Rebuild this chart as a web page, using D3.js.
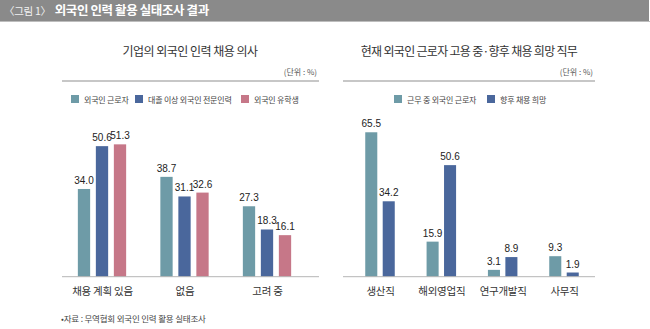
<!DOCTYPE html>
<html><head><meta charset="utf-8">
<script src="https://cdn.jsdelivr.net/npm/d3@7"></script>
<style>
body{margin:0;background:#fff;}
svg{display:block;}
.kr{font-family:"Noto Sans CJK KR","Noto Sans",sans-serif;}
.num{font-family:"Liberation Sans",Arial,sans-serif;}
</style></head>
<body>
<svg id="c" width="650" height="329"></svg>
<script>
const headerPrefix = "〈그림 1〉";
const headerTitle = "외국인 인력 활용 실태조사 결과";
const footnote = "•자료 : 무역협회 외국인 인력 활용 실태조사";
const unitLabel = "(단위 : %)";

const leftTitle = "기업의 외국인 인력 채용 의사";
const leftCategories = ["채용 계획 있음", "없음", "고려 중"];
const leftSeries = ["외국인 근로자", "대졸 이상 외국인 전문인력", "외국인 유학생"];
const leftWorkers = [34.0, 38.7, 27.3];
const leftGraduates = [50.6, 31.1, 18.3];
const leftStudents = [51.3, 32.6, 16.1];
const leftColors = ["#6e9ba7", "#4a679c", "#c67788"];

const rightTitle = "현재 외국인 근로자 고용 중·향후 채용 희망 직무";
const rightCategories = ["생산직", "해외영업직", "연구개발직", "사무직"];
const rightSeries = ["근무 중 외국인 근로자", "향후 채용 희망"];
const rightCurrent = [65.5, 15.9, 3.1, 9.3];
const rightFuture = [34.2, 50.6, 8.9, 1.9];
const rightColors = ["#6e9ba7", "#4a679c"];

const svg = d3.select("#c");

// header bar
svg.append("rect").attr("x",0).attr("y",0).attr("width",649).attr("height",21).attr("fill","#8a8a8a");
svg.append("rect").attr("x",0).attr("y",21).attr("width",650).attr("height",1).attr("fill","#bdbdbd");
const ht = svg.append("text").attr("class","kr").attr("x",4).attr("y",15).attr("fill","#fff");
ht.append("tspan").attr("font-size",10.5).attr("letter-spacing",-0.3).attr("fill","#f2f2f2").text(headerPrefix);
ht.append("tspan").attr("dx",4).attr("font-size",12.5).attr("letter-spacing",-0.4).attr("font-weight","bold").text(headerTitle);

function panel(cfg){
  const g = svg.append("g");
  const baseY = 276.7;
  g.append("text").attr("class","kr").attr("x",cfg.titleX).attr("y",55.5).attr("text-anchor","middle")
    .attr("font-size",12).attr("letter-spacing",cfg.titleLS).attr("fill","#333").text(cfg.title);
  g.append("text").attr("class","kr").attr("x",cfg.axisX1-2).attr("y",75).attr("text-anchor","end")
    .attr("font-size",8).attr("fill","#555").text(unitLabel);
  g.append("line").attr("x1",cfg.axisX0).attr("x2",cfg.axisX1).attr("y1",81).attr("y2",81)
    .attr("stroke","#b5b5b5").attr("stroke-width",1.5);
  // legend
  cfg.series.forEach((s,i)=>{
    const lx = cfg.legendX[i];
    g.append("rect").attr("x",lx).attr("y",95).attr("width",8).attr("height",8).attr("fill",cfg.colors[i]);
    g.append("text").attr("class","kr").attr("x",lx+13).attr("y",102.5).attr("font-size",8)
      .attr("letter-spacing",-0.2).attr("fill","#444").text(s);
  });
  const x = d3.scalePoint().domain(cfg.categories).range(cfg.xRange);
  const inner = d3.scaleBand().domain(cfg.series).range(cfg.innerRange).paddingInner(cfg.pad);
  const y = d3.scaleLinear().domain([0,100]).range([baseY, baseY-cfg.pxPer*100]);
  cfg.values.forEach((vals,si)=>{
    vals.forEach((v,ci)=>{
      const bx = x(cfg.categories[ci]) + inner(cfg.series[si]);
      g.append("rect").attr("x",bx).attr("y",y(v)).attr("width",inner.bandwidth())
        .attr("height",baseY-y(v)).attr("fill",cfg.colors[si]);
      g.append("text").attr("class","num").attr("x",bx+inner.bandwidth()/2).attr("y",y(v)-5)
        .attr("text-anchor","middle").attr("font-size",10).attr("fill","#222").text(v.toFixed(1));
    });
  });
  g.append("line").attr("x1",cfg.axisX0).attr("x2",cfg.axisX1).attr("y1",baseY).attr("y2",baseY)
    .attr("stroke","#b5b5b5").attr("stroke-width",1);
  const axis = d3.axisBottom(x).tickSize(0).tickPadding(11);
  const ag = g.append("g").attr("transform",`translate(0,${baseY})`).call(axis);
  ag.select(".domain").remove();
  ag.selectAll("text").attr("class","kr").attr("font-size",10.5).attr("letter-spacing",-0.25).attr("fill","#333")
    .attr("font-family","'Noto Sans CJK KR',sans-serif");
}

panel({
  title:leftTitle, titleX:190, titleLS:-0.5, axisX0:62, axisX1:319,
  legendX:[71,135,241],
  series:leftSeries, categories:leftCategories, colors:leftColors,
  values:[leftWorkers,leftGraduates,leftStudents],
  xRange:[102,267], innerRange:[-24.15,24.15], pad:0.317, pxPer:2.58
});
panel({
  title:rightTitle, titleX:469, titleLS:-0.7, axisX0:343, axisX1:595,
  legendX:[394,487],
  series:rightSeries, categories:rightCategories, colors:rightColors,
  values:[rightCurrent,rightFuture],
  xRange:[380,564], innerRange:[-14.75,14.75], pad:0.31, pxPer:2.205
});

svg.append("text").attr("class","kr").attr("x",61).attr("y",322).attr("font-size",8.5)
  .attr("letter-spacing",-0.2).attr("fill","#444").text(footnote);
</script>
</body></html>
